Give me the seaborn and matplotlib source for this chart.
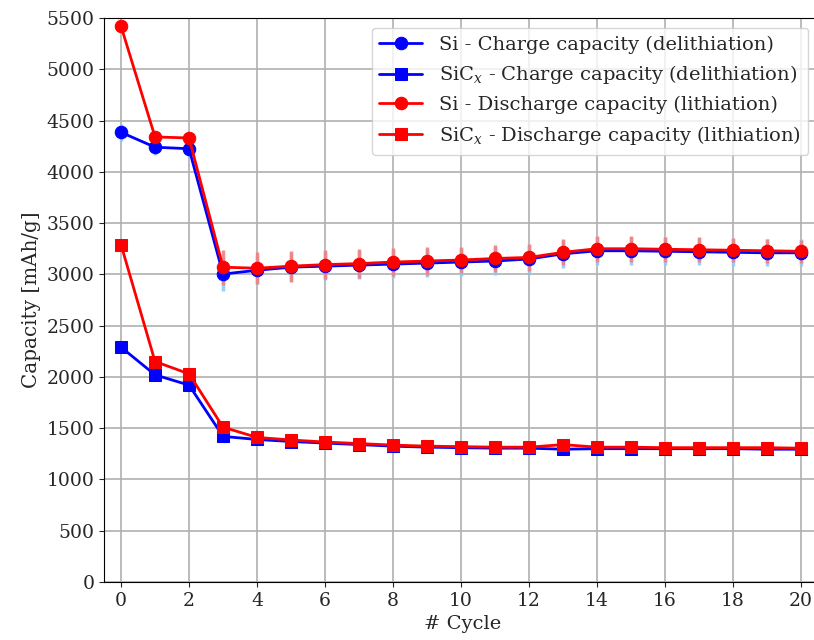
import numpy as np
import pandas as pd
import matplotlib
matplotlib.use("Agg")
import matplotlib.pyplot as plt
import seaborn as sns

cycles = list(range(21))
si_charge = [4385, 4240, 4225, 3003, 3040, 3070, 3080, 3090, 3100, 3110, 3120, 3130,
             3150, 3200, 3230, 3230, 3225, 3220, 3215, 3210, 3210]
si_charge_err = [80, 80, 80, 170, 135, 135, 135, 135, 135, 135, 135, 135,
                 135, 135, 135, 135, 135, 130, 130, 130, 130]
sicx_charge = [2290, 2020, 1920, 1420, 1390, 1370, 1355, 1340, 1325, 1315, 1310, 1305,
               1305, 1295, 1300, 1300, 1300, 1300, 1300, 1295, 1295]
sicx_charge_err = [25] * 21
si_discharge = [5420, 4340, 4330, 3070, 3060, 3080, 3095, 3105, 3120, 3130, 3140, 3155,
                3165, 3215, 3250, 3250, 3245, 3240, 3235, 3230, 3225]
si_discharge_err = [60, 60, 60, 170, 155, 150, 145, 140, 140, 135, 130, 130,
                    130, 125, 125, 125, 120, 120, 115, 115, 110]
sicx_discharge = [3290, 2150, 2030, 1510, 1410, 1385, 1365, 1350, 1335, 1325, 1320, 1315,
                  1315, 1340, 1315, 1315, 1310, 1310, 1310, 1310, 1305]
sicx_discharge_err = [25] * 21

labels = ["Si - Charge capacity (delithiation)",
          "SiC$_x$ - Charge capacity (delithiation)",
          "Si - Discharge capacity (lithiation)",
          "SiC$_x$ - Discharge capacity (lithiation)"]

sns.set_style("ticks")
plt.rcParams["font.family"] = ["DejaVu Serif"]
plt.rcParams["mathtext.fontset"] = "dejavuserif"

fig = plt.figure(figsize=(8.14, 6.4), dpi=100)
ax = fig.add_axes([0.1278, 0.0906, 0.8813, 0.8813])

series = [
    (si_charge, si_charge_err, "blue", "o", "#87CEFA", labels[0]),
    (sicx_charge, sicx_charge_err, "blue", "s", "#87CEFA", labels[1]),
    (si_discharge, si_discharge_err, "red", "o", "#F08080", labels[2]),
    (sicx_discharge, sicx_discharge_err, "red", "s", "#F08080", labels[3]),
]

for vals, errs, col, mk, ecol, lab in series:
    ax.errorbar(cycles, vals, yerr=errs, fmt="none", ecolor=ecol, elinewidth=2.5,
                alpha=0.9, zorder=2)

z = 3
for vals, errs, col, mk, ecol, lab in series:
    df = pd.DataFrame({"cycle": cycles, "cap": vals})
    sns.lineplot(data=df, x="cycle", y="cap", ax=ax, color=col, marker=mk,
                 markersize=9, markeredgecolor=col, linewidth=2, label=lab,
                 zorder=z)
    z += 1

ax.set_xlim(-0.5, 20.6)
ax.set_ylim(0, 5500)
ax.set_xticks(range(0, 21, 2))
ax.set_yticks(range(0, 5501, 500))
ax.grid(True, color="#b0b0b0", linewidth=1.2)
ax.set_axisbelow(True)
ax.tick_params(labelsize=13.5)
ax.set_xlabel("# Cycle", fontsize=14)
ax.set_ylabel("Capacity [mAh/g]", fontsize=14.3)
for s in ax.spines.values():
    s.set_color("black")
ax.spines["right"].set_visible(False)

leg = ax.legend(loc="upper right", bbox_to_anchor=(0.982, 0.983), borderaxespad=0,
                fontsize=14, frameon=True, framealpha=0.8, handlelength=2.2,
                handletextpad=0.85)

fig.savefig("out.png", dpi=100)
